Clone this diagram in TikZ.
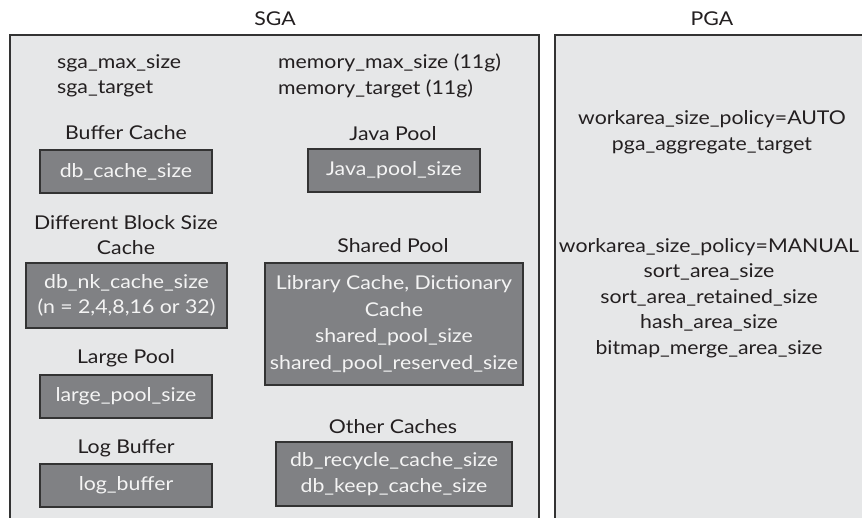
\documentclass[tikz,border=0pt]{standalone}
\usepackage{fontspec}
\setmainfont{Lato}[FakeStretch=1.12]
\begin{document}
\begin{tikzpicture}[x=1pt,y=-1pt,
  every node/.style={font=\fontsize{19}{25.5}\selectfont, inner sep=0pt, align=center, text=ink},
  region/.style={draw=frame, fill=panel, line width=1.6pt},
  darkbox/.style={draw=frame, fill=slate, line width=1.2pt, text=paper, inner sep=0pt},
  caption/.style={text=ink}]
\definecolor{ink}{HTML}{231F20}
\definecolor{frame}{HTML}{333333}
\definecolor{panel}{HTML}{E6E7E8}
\definecolor{slate}{HTML}{808184}
\definecolor{paper}{HTML}{F4F4F4}
\useasboundingbox (0,0) rectangle (862,517);
\fill[white] (0,0) rectangle (862,517);
\clip (0,0) rectangle (862,517);

% the two memory areas
\draw[region] (10,35) rectangle (539,540);
\draw[region] (555,35) rectangle (880,540);
\node[caption] (sgaTitle) at (275,19) {SGA};
\node[caption] (pgaTitle) at (712,19) {PGA};

% SGA sizing parameters
\node[caption, anchor=west, align=left] (sgaParams) at (57,76) {sga\_max\_size\\sga\_target};
\node[caption, anchor=west, align=left] (memParams) at (278,76) {memory\_max\_size (11g)\\memory\_target (11g)};

% left column of pools
\node[caption] (bufLabel) at (126,133) {Buffer Cache};
\node[darkbox, minimum width=172pt, minimum height=43pt] (bufBox) at (126,171.5) {db\_cache\_size};

\node[caption] (nkLabel) at (126,235) {Different Block Size\\Cache};
\node[darkbox, minimum width=201pt, minimum height=65pt] (nkBox) at (126.5,295.5) {db\_nk\_cache\_size\\(n = 2,4,8,16 or 32)};

\node[caption] (largeLabel) at (126,358) {Large Pool};
\node[darkbox, minimum width=172pt, minimum height=43pt] (largeBox) at (126,396.5) {large\_pool\_size};

\node[caption] (logLabel) at (126,448) {Log Buffer};
\node[darkbox, minimum width=172pt, minimum height=43pt] (logBox) at (126,485.5) {log\_buffer};

% right column of pools
\node[caption] (javaLabel) at (393,134) {Java Pool};
\node[darkbox, minimum width=172pt, minimum height=43pt] (javaBox) at (394,170.5) {Java\_pool\_size};

\node[caption] (sharedLabel) at (393,246) {Shared Pool};
\node[darkbox, minimum width=258pt, minimum height=122pt, font=\fontsize{19}{26.5}\selectfont] (sharedBox) at (394,324) {Library Cache, Dictionary\\Cache\\shared\_pool\_size\\shared\_pool\_reserved\_size};

\node[caption] (otherLabel) at (393,427) {Other Caches};
\node[darkbox, minimum width=236pt, minimum height=64pt] (otherBox) at (394,474) {db\_recycle\_cache\_size\\db\_keep\_cache\_size};

% PGA work area parameters
\node[caption] (autoParams) at (712,132) {workarea\_size\_policy=AUTO\\pga\_aggregate\_target};
\node[caption] (manualParams) at (709,298) {workarea\_size\_policy=MANUAL\\sort\_area\_size\\sort\_area\_retained\_size\\hash\_area\_size\\bitmap\_merge\_area\_size};
\end{tikzpicture}
\end{document}
